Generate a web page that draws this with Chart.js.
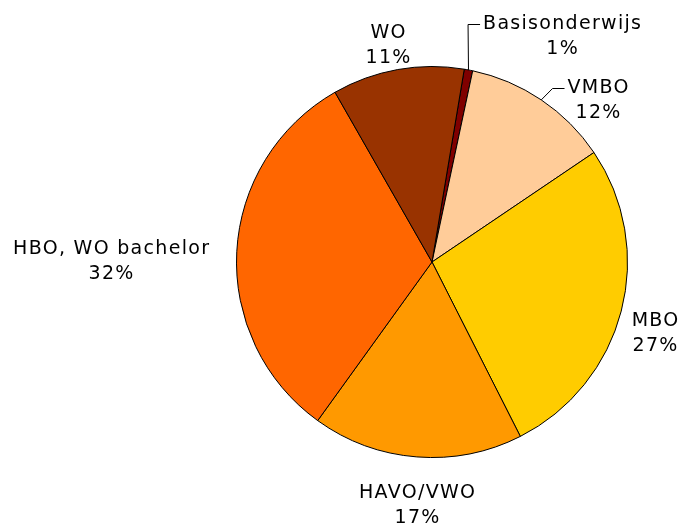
<!DOCTYPE html>
<html>
<head>
<meta charset="utf-8">
<script src="https://cdn.jsdelivr.net/npm/chart.js@4.4.0/dist/chart.umd.min.js"></script>
<style>
  html, body { margin: 0; padding: 0; background: #fff; }
</style>
</head>
<body>
<canvas id="eduChart" width="680" height="528"></canvas>
<script>
// data (clockwise from just right of 12 o'clock)
const categories = ["Basisonderwijs", "VMBO", "MBO", "HAVO/VWO", "HBO, WO bachelor", "WO"];
const shares = [0.7, 12.2, 27.0, 17.4, 31.8, 10.9];

// styling
const sliceColors = ["#800000", "#FFCC99", "#FFCC00", "#FF9900", "#FF6600", "#993300"];
// centre of each label block, relative to the pie centre
const labelOffsets = [[130, -225], [166, -161], [223, 72], [-15, 244], [-321, 0], [-44, -216]];
const hasLeader = [true, true, false, false, false, false];

const LABEL_FONT = "19px 'DejaVu Sans', Verdana, sans-serif";
const LETTER_SPACING = 1.3;
const LINE_GAP = 25;

const outsideLabels = {
  id: "outsideLabels",
  afterDraw(chart) {
    const ctx = chart.ctx;
    const meta = chart.getDatasetMeta(0);
    const total = shares.reduce((a, b) => a + b, 0);
    ctx.save();
    ctx.font = LABEL_FONT;
    ctx.letterSpacing = LETTER_SPACING + "px";
    ctx.fillStyle = "#000";
    ctx.strokeStyle = "#000";
    ctx.lineWidth = 1;
    ctx.textAlign = "center";
    ctx.textBaseline = "middle";

    meta.data.forEach(function (arc, i) {
      const p = arc.getProps(["x", "y", "startAngle", "endAngle", "outerRadius"], true);
      const cx = p.x + labelOffsets[i][0];
      const cy = p.y + labelOffsets[i][1];
      const line1 = categories[i];
      const line2 = Math.round(shares[i] / total * 100) + "%";
      const y1 = cy - LINE_GAP / 2;
      const y2 = cy + LINE_GAP / 2;
      const shift = LETTER_SPACING / 2;

      ctx.fillText(line1, cx + shift, y1);
      ctx.fillText(line2, cx + shift, y2);

      if (hasLeader[i]) {
        const mid = (p.startAngle + p.endAngle) / 2;
        const ex = p.x + Math.cos(mid) * p.outerRadius;
        const ey = p.y + Math.sin(mid) * p.outerRadius;
        const w = ctx.measureText(line1).width;
        const left = cx - w / 2 + shift;
        ctx.beginPath();
        ctx.moveTo(ex, ey);
        ctx.lineTo(left - 15, y1);
        ctx.lineTo(left - 3, y1);
        ctx.stroke();
      }
    });
    ctx.restore();
  },
};

const ctx = document.getElementById("eduChart").getContext("2d");
const eduChart = new Chart(ctx, {
  type: "pie",
  data: {
    labels: categories,
    datasets: [
      {
        data: shares,
        backgroundColor: sliceColors,
        borderColor: "#000",
        borderWidth: 1,
      },
    ],
  },
  options: {
    responsive: false,
    animation: false,
    rotation: 9.5,
    layout: {
      padding: { left: 236, right: 52, top: 66, bottom: 70 },
    },
    plugins: {
      legend: { display: false },
      tooltip: { enabled: false },
    },
  },
  plugins: [outsideLabels],
});
</script>
</body>
</html>
